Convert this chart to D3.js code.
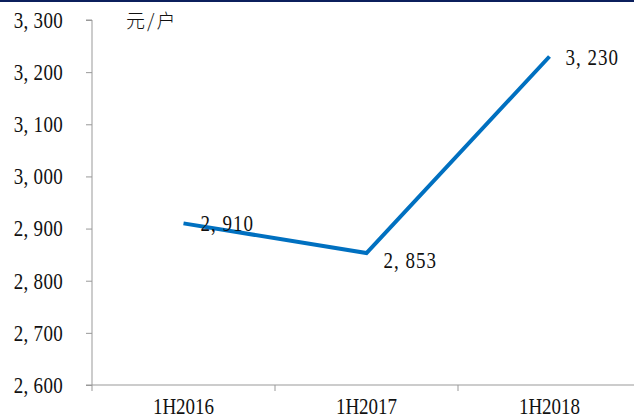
<!DOCTYPE html>
<html>
<head>
<meta charset="utf-8">
<script src="https://cdn.jsdelivr.net/npm/d3@7"></script>
<style>
  body { margin: 0; background: #fff; }
</style>
</head>
<body>
<div id="chart"></div>
<script>
const categories = ["1H2016", "1H2017", "1H2018"];
const values = [2910, 2853, 3230];
const yTicks = [2600, 2700, 2800, 2900, 3000, 3100, 3200, 3300];
const unitLabel = "元/户";

const W = 634, H = 419;
const SERIF = "'Liberation Serif', 'DejaVu Serif', serif";
const fmt = v => d3.format(",")(v).replace(",", ", ");

// tall narrow look of the original font
function stretch(sel, sy) {
  sel.each(function () {
    const t = d3.select(this);
    const yy = +t.attr("y") || 0;
    t.attr("transform", `translate(0,${yy}) scale(1,${sy}) translate(0,${-yy})`);
  });
}

const svg = d3.select("#chart").append("svg")
  .attr("width", W).attr("height", H);

// top band
svg.append("rect").attr("x", 0).attr("y", 0).attr("width", W).attr("height", 2)
  .attr("fill", "#0b1f5c");

const x = d3.scaleBand().domain(categories).range([92, 641]);
const y = d3.scaleLinear().domain([2600, 3300]).range([385, 20]);

// y axis
const yAxis = svg.append("g")
  .attr("transform", "translate(92,0)")
  .call(d3.axisLeft(y).tickValues(yTicks).tickSize(6).tickPadding(23).tickFormat(fmt));
yAxis.select(".domain").attr("stroke", "#999").attr("d", `M-6,${y(3300)}H0V${y(2600)}`);
yAxis.selectAll(".tick line").attr("stroke", "#999");
yAxis.selectAll(".tick text")
  .attr("font-size", 19).style("font-family", SERIF).attr("fill", "#111")
  .style("letter-spacing", "0.3px")
  .call(stretch, 1.2);

// x axis
const xAxis = svg.append("g")
  .attr("transform", "translate(0,385)")
  .call(d3.axisBottom(x).tickSize(0).tickPadding(13));
xAxis.select(".domain").attr("stroke", "#999").attr("d", `M86,0H${W}`);
xAxis.selectAll(".tick text")
  .attr("font-size", 19).style("font-family", SERIF).attr("fill", "#111")
  .call(stretch, 1.2);
xAxis.selectAll(".sep")
  .data(x.domain())
  .enter().append("line")
  .attr("x1", d => x(d)).attr("x2", d => x(d))
  .attr("y1", 0).attr("y2", 6)
  .attr("stroke", "#999");

// unit label
svg.append("text")
  .attr("x", 126).attr("y", 28)
  .attr("font-size", 19)
  .attr("fill", "#111")
  .style("font-family", "'Noto Sans CJK SC', sans-serif")
  .style("font-weight", 300)
  .style("letter-spacing", "2px")
  .text(unitLabel);

// line
const cx = d => x(d) + x.bandwidth() / 2;
const line = d3.line().x((d, i) => cx(categories[i])).y(d => y(d));
svg.append("path")
  .datum(values)
  .attr("fill", "none")
  .attr("stroke", "#0070c0")
  .attr("stroke-width", 4)
  .attr("d", line);

// data labels
const labelOffsets = [[17, 8], [17, 15], [16, 9]];
svg.selectAll(".lbl")
  .data(values)
  .enter().append("text")
  .attr("x", (d, i) => cx(categories[i]) + labelOffsets[i][0])
  .attr("y", (d, i) => y(d) + labelOffsets[i][1])
  .attr("font-size", 19)
  .attr("fill", "#111")
  .style("font-family", SERIF)
  .style("letter-spacing", "1px")
  .text(d => fmt(d))
  .call(stretch, 1.2);
</script>
</body>
</html>
